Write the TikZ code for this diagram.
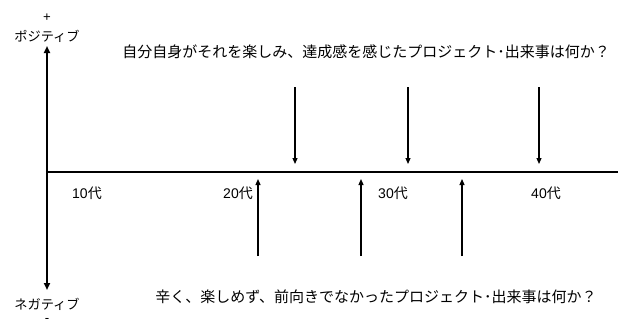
\documentclass[tikz,border=0pt]{standalone}
\usepackage{fontspec}
\setmainfont{Noto Sans CJK JP}
\newfontfamily\latfont{Liberation Sans}
\usetikzlibrary{arrows.meta}
\begin{document}
\begin{tikzpicture}[x=1pt,y=-1pt,
  axis/.style={line width=2.6pt},
  vaxis/.style={line width=2.4pt,-{Triangle[length=7pt,width=6pt]}},
  evarrow/.style={line width=1.2pt,-{Triangle[length=6pt,width=5pt]}},
  lbl/.style={inner sep=0pt,font=\fontsize{13.2}{15}\selectfont},
  declbl/.style={inner sep=0pt,font=\fontsize{14}{16}\selectfont},
  qtext/.style={inner sep=0pt,font=\fontsize{15}{18}\selectfont}]
\useasboundingbox (0,0) rectangle (618,327);
% axis nodes
\coordinate (o) at (47,172);
\coordinate (xend) at (618,172);
\node[lbl] (plus) at (47,18) {\latfont +};
\node[lbl] (pos) at (47,36) {ポジティブ};
\node[lbl] (neg) at (47,304) {ネガティブ};
\node[lbl] (minus) at (47,320) {\latfont -};
\coordinate (ptop) at (47,46);
\coordinate (pbot) at (47,290);
\draw[vaxis] (o) -- (ptop);
\draw[vaxis] (o) -- (pbot);
\draw[axis] ([xshift=-1.2pt]o) -- (xend);
% decade labels
\node[declbl] (d10) at (87,193) {{\latfont 10}代};
\node[declbl] (d20) at (238,193) {{\latfont 20}代};
\node[declbl] (d30) at (393,193) {{\latfont 30}代};
\node[declbl] (d40) at (546,193) {{\latfont 40}代};
% questions
\node[qtext] (qpos) at (366,52) {自分自身がそれを楽しみ、達成感を感じたプロジェクト･出来事は何か？};
\node[qtext] (qneg) at (376,297) {辛く、楽しめず、前向きでなかったプロジェクト･出来事は何か？};
% positive arrows
\foreach \n/\x in {a/295,b/408,c/539}{
  \coordinate (top\n) at (\x,87);
  \coordinate (topt\n) at (\x,164);
  \draw[evarrow] (top\n) -- (topt\n);
}
% negative arrows
\foreach \n/\x in {a/258,b/361,c/462}{
  \coordinate (bot\n) at (\x,256);
  \coordinate (bott\n) at (\x,179);
  \draw[evarrow] (bot\n) -- (bott\n);
}
\end{tikzpicture}
\end{document}
